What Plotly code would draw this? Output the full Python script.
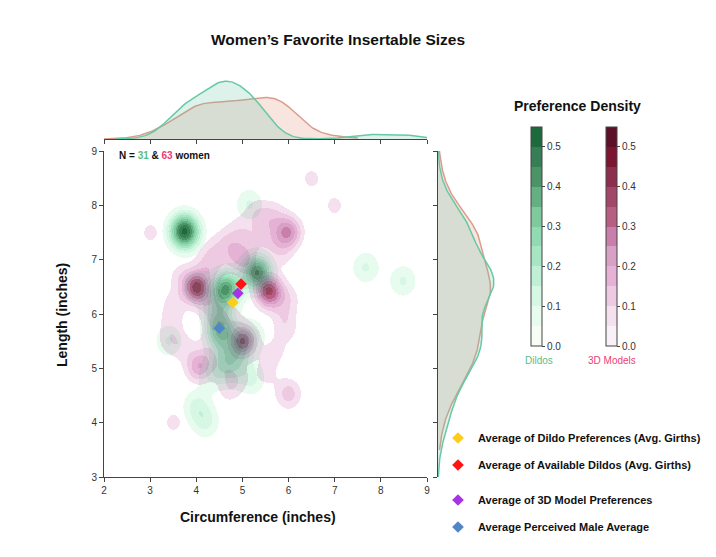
import numpy as np
import plotly.graph_objects as go

W, H = 716, 557

# ---------------- data ----------------
dildo_circ = [3.70, 3.78, 3.72, 3.76, 3.74,
              5.28, 5.34, 5.30, 5.36,
              4.60, 4.68, 4.62, 4.66,
              4.50, 4.48, 4.55,
              4.00, 4.20,
              5.15, 7.68, 8.49, 3.40,
              4.35, 4.75, 4.60, 5.20, 4.40,
              5.20, 4.95, 4.00, 4.90]
dildo_len = [7.58, 7.50, 7.48, 7.56, 7.50,
             6.78, 6.74, 6.84, 6.70,
             6.50, 6.42, 6.40, 6.52,
             5.70, 5.60, 5.80,
             4.30, 4.00,
             8.02, 6.86, 6.61, 5.51,
             4.90, 4.95, 5.20, 5.60, 6.10,
             4.80, 5.25, 6.50, 5.50]

model_circ = [3.95, 4.05, 4.00, 4.02, 3.98, 4.04,
              5.54, 5.60, 5.58, 5.56, 5.62, 5.54,
              5.00, 5.02, 4.98, 5.04, 5.00,
              6.00, 5.98, 6.02, 5.96,
              4.05, 4.02, 4.08,
              5.00, 4.96,
              6.00, 6.00,
              6.50, 7.00, 3.00, 3.50,
              4.40, 4.70, 5.00, 5.30, 5.50, 5.65, 5.85, 4.20, 5.30, 4.80, 5.70,
              3.45, 3.50, 3.65, 3.40, 3.70,
              5.90, 5.95, 6.00, 5.70, 5.50,
              4.40, 4.35, 4.30, 4.60, 4.90, 4.75, 4.30, 5.20, 4.40, 4.70]
model_len = [6.50, 6.45, 6.55, 6.48, 6.42, 6.52,
             6.45, 6.40, 6.50, 6.36, 6.44, 6.38,
             5.50, 5.55, 5.48, 5.50, 5.45,
             7.50, 7.48, 7.52, 7.55,
             5.00, 5.05, 5.02,
             7.05, 7.00,
             4.55, 4.50,
             8.50, 8.00, 7.50, 4.00,
             7.20, 7.40, 7.60, 7.90, 7.70, 7.35, 7.10, 6.95, 7.30, 7.15, 7.85,
             5.85, 6.20, 6.70, 5.50, 5.40,
             6.00, 5.70, 6.30, 5.30, 4.90,
             6.00, 5.70, 5.30, 5.00, 4.80, 5.95, 6.20, 6.80, 6.85, 4.60]

avg_names = ["Average of Dildo Preferences (Avg. Girths)",
             "Average of Available Dildos (Avg. Girths)",
             "Average of 3D Model Preferences",
             "Average Perceived Male Average"]
avg_circ = [4.79, 4.97, 4.90, 4.50]
avg_len = [6.21, 6.55, 6.38, 5.74]
avg_colors = ["#ffcc1a", "#ff1414", "#a733e6", "#4f86c6"]

density_ticks = [0.0, 0.1, 0.2, 0.3, 0.4, 0.5]
level_step = 0.05

green_bins = ["#f7fcf5", "#e8fbef", "#d5f7e4", "#bff0d5", "#a6e6c3", "#92dab2",
              "#7fca9c", "#64b083", "#4c9468", "#377e57", "#1d6b3d"]
pink_bins = ["#faf0f8", "#f5e0ef", "#edcae2", "#e5b2d6", "#d9a0c6", "#c97fab",
             "#b65f82", "#a34768", "#8c2f4f", "#7c1530", "#5e1028"]

# ---------------- density estimation ----------------
gx = np.linspace(2, 9, 323)
gy = np.linspace(3, 9, 326)
X, Y = np.meshgrid(gx, gy)


def kde2d(xs, ys, h):
    Z = np.zeros_like(X)
    for a, b in zip(xs, ys):
        Z += np.exp(-0.5 * ((X - a) / h) ** 2 - 0.5 * ((Y - b) / h) ** 2)
    return Z / (2 * np.pi * h * h * len(xs))


def kde1d(vals, grid, h):
    vals = np.asarray(vals)
    d = np.exp(-0.5 * ((grid[:, None] - vals[None, :]) / h) ** 2).sum(axis=1)
    return d / (np.sqrt(2 * np.pi) * h * len(vals))


def hex2rgb(c):
    c = c.lstrip("#")
    return np.array([int(c[i:i + 2], 16) for i in (0, 2, 4)], dtype=float)


Zd = kde2d(dildo_circ, dildo_len, 0.22)
Zm = kde2d(model_circ, model_len, 0.20)
nb = len(green_bins)
gbin = np.clip(np.floor(Zd / level_step), 0, nb - 1).astype(int)
pbin = np.clip(np.floor(Zm / level_step), 0, nb - 1).astype(int)
combo = pbin * nb + gbin

# the two density layers overlap multiplicatively (lowest band = blank)
g_rgb = [np.array([255.0, 255, 255])] + [hex2rgb(c) for c in green_bins[1:]]
p_rgb = [np.array([255.0, 255, 255])] + [hex2rgb(c) for c in pink_bins[1:]]
combo_colors = []
for pi in range(nb):
    for gi in range(nb):
        r, g, b = (p_rgb[pi] * g_rgb[gi] / 255.0).round().astype(int)
        combo_colors.append(f"rgb({r},{g},{b})")
ncombo = len(combo_colors)
combo_scale = []
for k, c in enumerate(combo_colors):
    combo_scale.append([k / ncombo, c])
    combo_scale.append([(k + 1) / ncombo, c])


def bar_scale(bins):
    n = len(bins)
    cs = []
    for k, c in enumerate(bins):
        cs.append([k / n, c])
        cs.append([(k + 1) / n, c])
    return cs


fig = go.Figure()

fig.add_trace(go.Heatmap(
    x=gx, y=gy, z=combo, zmin=-0.5, zmax=ncombo - 0.5, colorscale=combo_scale,
    showscale=False, hoverinfo="skip", zsmooth=False, xaxis="x", yaxis="y"))

# average markers
for i in range(4):
    fig.add_trace(go.Scatter(
        x=[avg_circ[i]], y=[avg_len[i]], mode="markers", name=avg_names[i],
        marker=dict(symbol="diamond", size=9, color=avg_colors[i]),
        legend=["legend", "legend2", "legend3", "legend4"][i],
        xaxis="x", yaxis="y"))

# marginals
mg_x_pink = np.linspace(2.0, 7.5, 200)
mg_x_green = np.linspace(2.25, 9.0, 200)
mg_y_pink = np.linspace(3.5, 9.0, 200)
mg_y_green = np.linspace(3.0, 9.0, 200)
top_pink = kde1d(model_circ, mg_x_pink, 0.40)
top_green = kde1d(dildo_circ, mg_x_green, 0.38)
right_pink = kde1d(model_len, mg_y_pink, 0.42)
right_green = kde1d(dildo_len, mg_y_green, 0.42)

pink_line = "#dc9c8c"
pink_fill = "rgba(228,150,128,0.25)"
green_line = "#66c9a5"
green_fill = "rgba(102,194,165,0.22)"

fig.add_trace(go.Scatter(x=mg_x_pink, y=top_pink, mode="lines", fill="tozeroy",
                         line=dict(color=pink_line, width=1.5), fillcolor=pink_fill,
                         showlegend=False, hoverinfo="skip", xaxis="x2", yaxis="y2"))
fig.add_trace(go.Scatter(x=mg_x_green, y=top_green, mode="lines", fill="tozeroy",
                         line=dict(color=green_line, width=1.5), fillcolor=green_fill,
                         showlegend=False, hoverinfo="skip", xaxis="x2", yaxis="y2"))
fig.add_trace(go.Scatter(x=right_pink, y=mg_y_pink, mode="lines", fill="tozerox",
                         line=dict(color=pink_line, width=1.5), fillcolor=pink_fill,
                         showlegend=False, hoverinfo="skip", xaxis="x3", yaxis="y3"))
fig.add_trace(go.Scatter(x=right_green, y=mg_y_green, mode="lines", fill="tozerox",
                         line=dict(color=green_line, width=1.5), fillcolor=green_fill,
                         showlegend=False, hoverinfo="skip", xaxis="x3", yaxis="y3"))

# colorbars
for bins, xpos in [(green_bins, 531 / W), (pink_bins, 606 / W)]:
    fig.add_trace(go.Scatter(
        x=[None], y=[None], mode="markers", showlegend=False, hoverinfo="skip",
        marker=dict(color=[0], cmin=0, cmax=0.55, colorscale=bar_scale(bins), showscale=True,
                    colorbar=dict(x=xpos, xanchor="left", xpad=0, ypad=0,
                                  y=1 - 236.5 / H, yanchor="middle",
                                  len=219, lenmode="pixels", thickness=11,
                                  outlinewidth=1, outlinecolor="#444",
                                  tickvals=density_ticks, tickformat=".1f",
                                  ticks="outside", ticklen=3, tickcolor="#444",
                                  tickfont=dict(size=10, color="#333"))),
        xaxis="x", yaxis="y"))

FONT = "Liberation Sans, Arial, sans-serif"
x_dom = [104 / W, 427 / W]
y_dom = [1 - 477 / H, 1 - 151 / H]
axis_common = dict(showgrid=False, zeroline=False, showline=True, linecolor="#444",
                   linewidth=1, ticks="outside", ticklen=4, tickcolor="#444", automargin=False,
                   tickfont=dict(size=10, color="#333", family=FONT))
axis_nolab = {k: v for k, v in axis_common.items() if k != "tickfont"}

legend_y = [438, 465, 500, 527]
legends = {}
for i, key in enumerate(["legend", "legend2", "legend3", "legend4"]):
    legends[key] = dict(x=(458 - 20) / W, xanchor="left", y=1 - legend_y[i] / H, yanchor="middle",
                        bgcolor="rgba(0,0,0,0)", borderwidth=0,
                        font=dict(size=11, color="#111", family=FONT, weight="bold"))


def ann(text, x, y, size, color, **kw):
    d = dict(text=text, x=x / W, y=1 - y / H, xref="paper", yref="paper", xanchor="center",
             yanchor="middle", showarrow=False, font=dict(size=size, color=color, family=FONT))
    d.update(kw)
    return d


fig.update_layout(
    width=W, height=H, margin=dict(l=0, r=0, t=0, b=0, autoexpand=False),
    paper_bgcolor="white", plot_bgcolor="rgba(0,0,0,0)",
    font=dict(family=FONT, color="#222"),
    title=dict(text="<b>Women’s Favorite Insertable Sizes</b>", x=338 / W, xanchor="center",
               y=1 - 40 / H, yanchor="middle", font=dict(size=15.5, color="#111", family=FONT)),
    xaxis=dict(domain=x_dom, range=[2, 9], dtick=1, anchor="y", **axis_common),
    yaxis=dict(domain=y_dom, range=[3, 9], dtick=1, anchor="x", **axis_common),
    xaxis2=dict(domain=x_dom, range=[2, 9], dtick=1, anchor="y2", showticklabels=False, **axis_nolab),
    yaxis2=dict(domain=[1 - 139 / H, 1 - 80 / H], range=[0, float(top_green.max()) * 1.02],
                anchor="x2", visible=False),
    xaxis3=dict(domain=[438 / W, 495 / W],
                range=[0, float(max(right_pink.max(), right_green.max())) * 1.02],
                anchor="y3", visible=False),
    yaxis3=dict(domain=y_dom, range=[3, 9], dtick=1, anchor="x3", showticklabels=False, **axis_nolab),
    **legends,
    annotations=[
        ann("<b>N = <span style='color:#5dbb84'>31</span> &amp; "
            "<span style='color:#ec3d74'>63</span> women</b>", 117, 155, 10, "#111", xanchor="left"),
        ann("<b>Circumference (inches)</b>", 258, 517, 14, "#111"),
        ann("<b>Length (inches)</b>", 62, 315, 14, "#111", textangle=-90),
        ann("<b>Preference Density</b>", 577, 106, 14, "#111"),
        ann("Dildos", 539, 360, 10, "#5dbb84"),
        ann("3D Models", 612, 360, 10, "#ec3d74"),
    ],
)

fig.write_html("out.html")
